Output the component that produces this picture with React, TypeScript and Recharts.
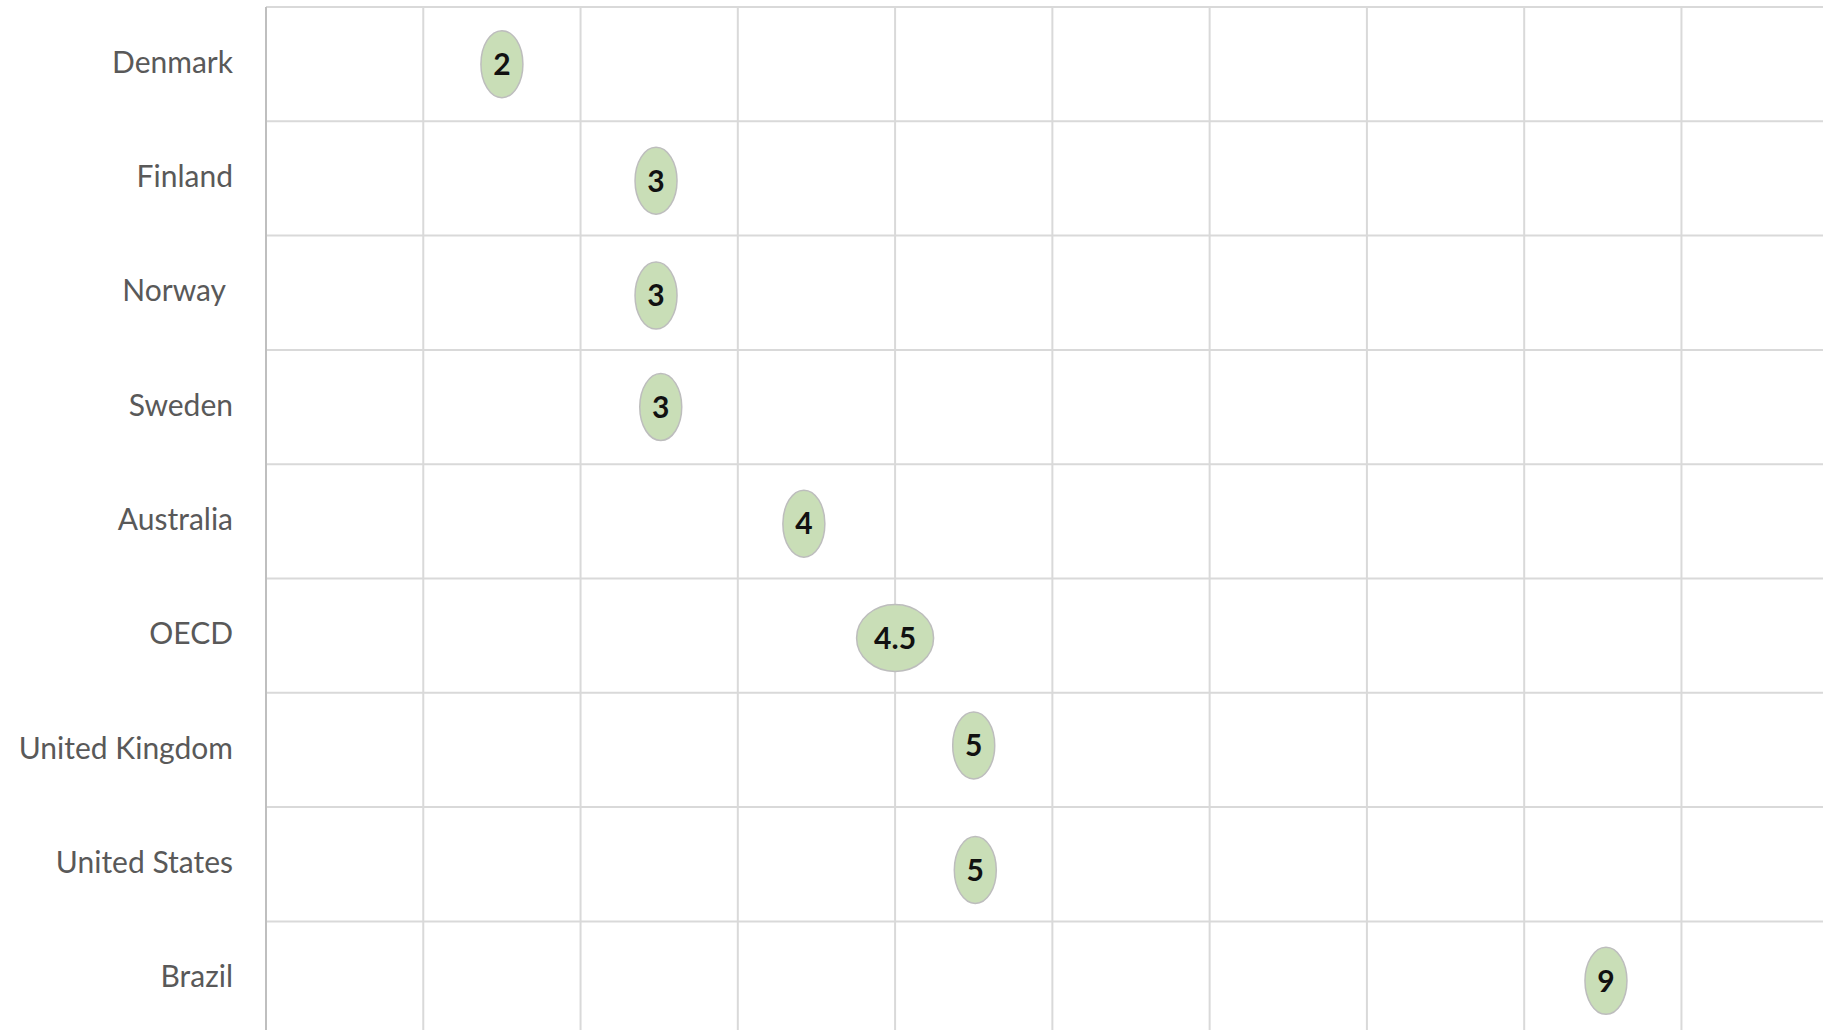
import {
  ScatterChart,
  Scatter,
  XAxis,
  YAxis,
  ReferenceLine,
} from "recharts";

const countries = [
  "Denmark",
  "Finland",
  "Norway\u00a0",
  "Sweden",
  "Australia",
  "OECD",
  "United Kingdom",
  "United States",
  "Brazil",
];
// value printed inside each bubble
const values = [2, 3, 3, 3, 4, 4.5, 5, 5, 9];
// where each bubble sits on the hidden x scale (slightly jittered in the source)
const positions = [2.0, 2.98, 2.98, 3.01, 3.92, 4.5, 5.0, 5.01, 9.02];
// small vertical nudge of each bubble inside its row, in row units
const rowNudge = [0, 0.02, 0.025, 0, 0.02, 0.02, -0.04, 0.05, 0.02];
const xGridTicks = [1.5, 2.5, 3.5, 4.5, 5.5, 6.5, 7.5, 8.5, 9.5];

const rowCenters = countries.map((_, i) => i + 0.5);
const rowBounds = countries.map((_, i) => i);

const data = countries.map((name, i) => ({
  name,
  x: positions[i],
  y: rowCenters[i] + rowNudge[i],
  value: values[i],
}));

const GRID = "#d9d9d9";

function Bubble(props: any) {
  const { cx, cy, payload } = props;
  if (cx == null || cy == null) return null;
  const label = String(payload.value);
  const rx = label.length > 1 ? 38.5 : 21;
  return (
    <g>
      <ellipse cx={cx} cy={cy} rx={rx} ry={33.5} fill="#c9deb7" stroke="#bdbdbd" strokeWidth={1.5} />
      <text
        x={cx}
        y={cy}
        dy="0.36em"
        textAnchor="middle"
        fontFamily="Lato, 'Noto Sans', sans-serif"
        fontWeight={700}
        fontSize={30}
        fill="#111"
      >
        {label}
      </text>
    </g>
  );
}

export default function App() {
  return (
    <div style={{ width: 1823, height: 1030, background: "#fff" }}>
      <style>{"body{margin:0;overflow:hidden}"}</style>
      <ScatterChart width={1823} height={1030} margin={{ top: 7, right: 0, bottom: 0, left: 0 }}>
        <XAxis type="number" dataKey="x" domain={[0.5, 10.4]} allowDataOverflow hide />
        <YAxis
          type="number"
          dataKey="y"
          domain={[0, 8.95]}
          allowDataOverflow
          reversed
          width={266}
          ticks={rowCenters}
          interval={0}
          tickFormatter={(v: number) => countries[Math.floor(v)] ?? ""}
          tickLine={false}
          tickSize={0}
          tickMargin={33}
          axisLine={{ stroke: "#bfbfbf", strokeWidth: 2 }}
          tick={{ fill: "#595959", fontSize: 30, fontFamily: "Lato, 'Noto Sans', sans-serif", dy: -2 }}
        />
        {rowBounds.map((b) => (
          <ReferenceLine key={`h${b}`} y={b} stroke={GRID} strokeWidth={2} />
        ))}
        {xGridTicks.map((t) => (
          <ReferenceLine key={`v${t}`} x={t} stroke={GRID} strokeWidth={2} />
        ))}
        <Scatter data={data} shape={<Bubble />} isAnimationActive={false} />
      </ScatterChart>
    </div>
  );
}
